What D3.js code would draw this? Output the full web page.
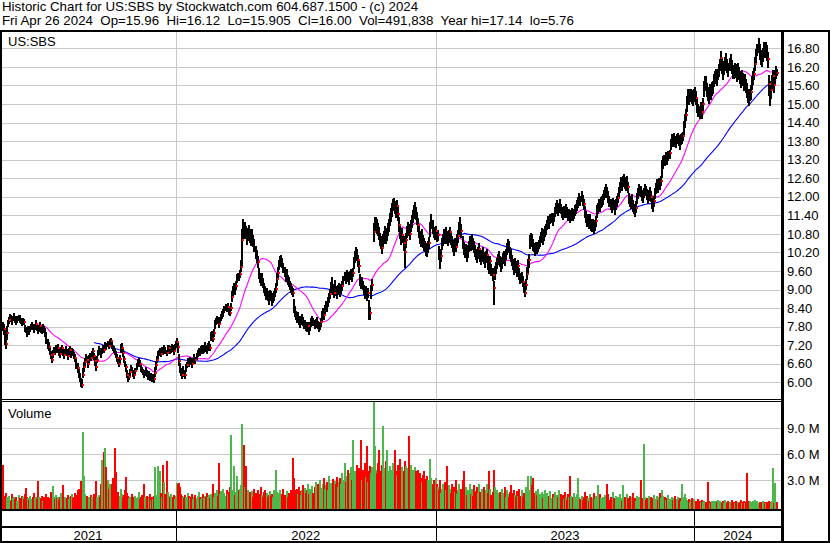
<!DOCTYPE html>
<html><head><meta charset="utf-8">
<script src="https://cdn.jsdelivr.net/npm/d3@7"></script>
<style>
body{margin:0;background:#fff}
svg{display:block}
text{font-family:"Liberation Sans",Arial,sans-serif;fill:#000}
</style>
</head><body>
<svg id="c" width="830" height="543"></svg>
<script>
// ---------------- DATA ----------------
const headerLines = [
  "Historic Chart for US:SBS by Stockwatch.com 604.687.1500 - (c) 2024",
  "Fri Apr 26 2024  Op=15.96  Hi=16.12  Lo=15.905  Cl=16.00  Vol=491,838  Year hi=17.14  lo=5.76"
];
const symbolLabel = "US:SBS";
const volumeLabel = "Volume";
const years = ["2021","2022","2023","2024"];
const yearStart = [0,168,419,669];           // trading-day index of first bar in each year
const priceTicks = [6.00,6.60,7.20,7.80,8.40,9.00,9.60,10.20,10.80,11.40,12.00,12.60,13.20,13.80,14.40,15.00,15.60,16.20,16.80];
const volTicks = [3,6,9];                     // millions
const maFast = 30, maSlow = 90;

// daily close, cents
const cl = [
782,771,748,724,760,
790,800,812,805,798,808,815,803,795,802,810,806,798,792,800,795,
775,768,760,770,765,772,780,
785,778,770,782,790,776,768,775,783,772,765,778,770,760,
740,722,715,
700,688,672,690,705,698,710,
705,712,698,690,702,710,695,688,700,708,695,685,698,706,692,700,695,688,680,
662,645,630,615,598,592,
625,648,665,680,672,660,675,685,678,
690,700,685,668,650,672,695,705,698,690,
700,712,705,720,715,725,718,730,735,720,712,705,698,690,
680,668,660,675,705,712,695,675,660,648,
625,612,618,632,645,640,630,622,635,
650,662,670,658,645,
640,632,625,630,638,628,620,625,615,622,612,618,610,
630,655,672,688,695,700,692,
705,698,710,702,695,708,712,700,706,715,708,700,712,720,
730,715,
668,645,632,625,640,630,622,645,
655,668,660,672,665,658,670,678,672,
685,692,700,695,705,712,700,708,718,710,702,715,722,712,
745,752,740,758,
785,795,805,798,790,802,808,
818,825,835,842,838,845,830,825,840,
875,892,905,898,912,
935,942,938,950,972,
1060,1105,1090,
1095,1080,1065,1075,1088,1070,1060,1072,1055,1040,
1020,1005,990,
950,938,925,935,920,
905,895,880,892,878,
870,885,878,865,872,880,890,902,
935,952,
978,990,998,985,970,
955,940,948,932,925,
912,905,898,890,
845,828,815,
805,812,798,790,800,808,795,785,790,780,775,782,768,
780,792,800,795,785,790,798,785,775,782,795,
812,825,818,835,848,842,858,
872,885,905,918,900,890,910,895,
885,898,905,892,900,912,
930,942,935,948,940,932,945,952,940,955,
985,1005,1020,1010,995,975,
930,918,925,912,
900,885,895,878,890,
840,825,
895,915,
1085,1110,1125,1105,1095,
1080,1062,1048,1035,1055,1070,1085,1065,1078,1092,
1105,1125,1140,1160,1175,1185,1165,1150,1170,1145,
1110,1085,1065,1075,1050,1020,
1060,1085,1100,1092,1080,1105,
1120,1135,1150,1165,1148,1130,1110,
1085,1070,1060,1075,1055,1045,
1040,1030,1022,1038,1050,
1095,1115,1100,
1085,1078,1090,1070,1075,
1020,995,1010,
1045,1060,1075,1068,1080,1070,1058,1072,1085,1065,
1055,1040,1030,1048,1038,1060,1072,
1095,1110,1090,
1050,1035,1020,1030,1010,1025,
1040,1052,1045,1060,1048,1038,
1025,1012,1005,1018,1030,1010,998,1008,1020,1002,
990,1005,1012,985,975,992,
965,948,905,955,970,
985,995,1005,990,978,985,1000,1008,995,1012,
1030,1045,1035,1020,1010,
995,980,968,985,972,960,975,
950,935,940,925,
905,890,915,
950,975,995,
1050,1065,1058,1045,
1035,1025,1040,1030,1038,1045,
1055,1070,1080,1065,1075,1088,1095,
1110,1120,1115,1128,1132,1122,1135,
1150,1162,1170,1158,1165,1175,1160,
1150,1140,1155,1145,1160,1148,1138,
1145,1132,1140,1150,1138,1145,1155,1160,
1170,1182,1195,1185,1200,1188,1175,
1150,1135,1120,1128,1115,1125,1110,
1105,1112,1098,1108,1120,
1150,1162,1175,1168,1180,1185,1190,
1205,1215,1225,1212,1200,
1185,1175,1168,1180,1172,1160,1175,1185,1195,
1215,1230,1245,1238,1250,1260,1245,1235,1248,1230,
1195,1185,1178,1190,1172,
1160,1148,1165,
1195,1210,1222,1215,1205,1198,1212,1225,1218,1208,1195,1205,1215,1200,
1180,1168,1185,
1212,1225,1238,1230,1245,1240,1252,
1295,1310,1320,
1315,1328,1322,1335,1340,
1370,1385,1378,1392,1380,1375,1388,1395,1382,1372,1385,1390,1398,
1425,1445,1465,
1505,1525,1518,1530,1540,1522,1515,1528,1535,1520,
1495,1480,1470,1485,1475,1500,
1550,1570,1565,
1545,1530,1525,1540,1535,1548,1555,
1575,1588,1595,1582,1598,
1610,1625,1648,1620,1605,
1615,1630,1645,1622,1610,1628,1640,1618,1605,
1600,1612,1605,1595,1610,1598,
1585,1572,1590,1578,1565,1575,1560,
1545,1528,1515,1530,1540,
1568,1585,1598,
1630,1655,1675,1690,1665,1650,
1640,1660,1682,1670,1688,1665,1645,
1565,1530,1545,
1570,1590,1560,1585,1602,
1600
];
// daily high minus close, cents
const hiOff = [
13,17,22,28,21,
12,10,9,14,11,8,10,12,9,13,8,11,10,12,9,11,
10,12,9,11,8,10,9,
9,12,10,8,11,13,10,9,12,10,11,9,12,14,
22,18,14,
14,12,15,13,10,12,9,
10,12,11,9,13,10,12,11,9,10,13,11,12,10,9,11,12,10,13,
15,18,14,16,17,20,
22,18,15,12,14,11,13,10,12,
12,10,11,14,16,13,10,11,12,10,
11,10,13,9,12,10,11,9,8,12,10,11,9,12,
12,11,10,13,18,15,12,11,10,12,
14,12,11,10,12,9,11,12,10,
11,12,10,13,11,
10,12,9,11,10,12,11,10,12,9,11,10,12,
18,15,14,12,11,10,12,
10,11,9,12,10,11,9,10,12,9,11,10,12,13,
14,12,
25,16,14,12,13,11,12,14,
12,11,13,10,12,11,10,12,11,
11,12,10,13,11,10,12,11,13,10,12,11,10,12,
18,14,16,15,
16,12,11,13,12,10,12,
14,12,13,11,14,12,13,12,15,
20,18,16,15,17,
15,13,16,14,24,
35,22,25,
22,25,20,24,22,26,21,23,20,22,
22,24,20,
18,16,20,17,18,
17,15,18,14,16,
16,14,17,15,16,14,15,18,
18,20,
16,18,14,16,17,
18,15,17,16,15,
15,16,14,15,
25,18,16,
15,14,16,13,15,14,16,15,13,14,15,14,12,
14,15,13,14,16,15,13,14,15,14,13,
18,16,17,15,16,18,17,
17,18,20,22,18,17,20,18,
16,17,15,16,18,14,
15,16,14,15,17,16,14,15,16,14,
20,18,17,22,18,16,
20,18,16,17,
16,18,15,17,16,
25,20,
20,18,
30,25,10,22,20,
22,20,24,21,23,20,22,24,21,23,
22,24,25,20,18,10,22,24,20,22,
24,22,20,25,22,20,
22,20,18,21,23,20,
20,22,24,18,20,22,21,
22,20,24,21,22,20,
18,20,22,19,20,
22,30,24,
18,20,17,19,18,
20,25,22,
20,18,22,19,21,18,20,22,17,19,
19,21,18,20,22,19,20,
24,25,22,
22,20,21,18,22,19,
18,20,19,21,18,20,
18,20,17,19,21,18,20,19,17,20,
20,18,19,22,20,18,
18,20,22,20,18,
17,19,18,20,17,19,18,17,20,18,
20,18,22,19,20,
18,20,19,17,20,18,19,
18,20,17,19,
18,17,20,
22,25,20,
25,18,20,19,
16,18,15,17,16,15,
18,17,19,18,20,19,18,
16,18,17,15,16,18,14,
18,17,19,18,16,17,18,
17,18,16,19,17,18,16,
16,18,17,15,18,16,17,18,
18,17,16,19,20,18,17,
20,18,19,17,20,18,19,
18,17,19,18,17,
22,18,17,19,18,17,18,
18,17,15,19,18,
17,18,16,17,19,18,17,16,18,
18,17,19,18,17,13,18,17,19,18,
18,19,17,18,19,
18,19,20,
18,17,18,19,17,18,17,15,18,17,19,18,17,18,
18,20,19,
17,18,19,17,15,18,16,
25,22,15,
18,17,20,12,10,
18,17,19,13,18,17,16,10,18,19,17,16,10,
20,22,18,
20,25,22,18,10,22,24,20,21,23,
22,20,24,21,23,20,
25,22,24,
22,24,20,23,21,22,18,
22,20,18,21,15,
20,22,22,25,24,
24,22,20,25,23,21,20,24,22,
22,20,23,21,22,20,
21,23,20,22,24,21,22,
24,22,25,20,22,
24,22,18,
22,24,20,23,30,25,
24,22,18,28,12,25,24,
30,25,28,
25,20,22,24,20,
12
];
// daily close minus low, cents
const loOff = [
17,19,26,16,22,
10,12,9,11,13,10,8,12,10,9,11,13,10,9,12,10,
11,9,12,10,13,9,11,
12,10,11,13,9,10,12,11,9,12,10,13,11,12,
16,14,13,
12,14,10,11,12,9,13,
11,9,12,10,11,13,9,12,10,11,9,12,10,11,13,10,9,12,14,
18,15,17,14,12,10,
12,14,16,13,11,15,12,14,10,
10,12,13,15,12,11,10,13,11,12,
10,12,9,11,10,12,9,11,10,13,12,10,11,10,
13,10,12,11,10,12,13,11,12,14,
12,12,10,13,11,10,12,11,10,
10,12,11,10,12,
11,10,12,9,11,10,12,11,10,12,10,11,12,
12,14,11,13,10,12,11,
11,9,12,10,11,9,12,10,11,12,10,11,9,10,
10,20,
16,14,12,15,13,12,12,11,
10,12,11,13,10,12,11,10,12,
12,10,11,10,12,11,10,12,11,12,10,13,11,10,
12,10,11,13,
14,11,12,10,13,11,10,
12,14,11,13,12,11,13,12,10,
15,16,14,17,15,
14,15,12,13,16,
85,30,28,
20,18,22,19,21,18,20,22,19,18,
20,18,22,
16,18,15,17,16,
15,16,14,17,15,
20,15,16,18,14,16,15,14,
22,16,
15,16,17,14,16,
16,17,15,16,18,
14,15,16,14,
20,16,15,
14,15,13,16,14,15,13,14,15,14,13,15,15,
13,14,15,13,14,15,14,13,12,14,15,
16,15,17,16,14,15,16,
16,17,18,16,19,17,18,16,
15,16,17,15,14,16,
14,15,16,14,15,17,15,14,16,15,
18,20,17,19,22,20,
18,16,17,15,
17,15,16,14,18,
40,25,
25,20,
30,22,20,24,22,
20,22,18,21,19,22,20,18,21,19,
20,21,22,24,20,22,21,20,22,24,
25,22,20,24,26,50,
25,20,22,19,21,20,
22,20,21,24,22,20,23,
20,22,21,19,22,20,
19,20,18,21,19,
24,20,22,
17,18,20,16,18,
25,30,22,
18,20,17,21,19,22,18,20,19,21,
20,18,21,19,18,20,22,
22,20,25,
20,22,19,21,20,22,
19,18,20,17,19,21,
19,17,20,18,17,20,19,18,20,19,
21,20,19,22,24,20,
20,22,55,24,20,
18,17,19,18,20,18,17,19,18,17,
19,20,18,21,20,
19,18,20,19,18,20,18,
19,17,20,18,
17,15,18,
20,22,24,
20,22,19,21,
15,16,17,15,16,15,
17,19,18,20,17,18,19,
17,15,18,16,17,15,16,
16,18,17,19,18,16,17,
18,16,17,15,18,17,16,
17,16,18,17,15,18,16,17,
17,18,19,16,18,17,19,
18,20,17,19,18,20,22,
20,18,17,19,18,
20,18,19,17,18,19,17,
17,19,18,17,20,
18,17,19,17,16,18,19,17,16,
17,18,17,19,18,17,19,18,17,19,
20,18,19,17,20,
15,13,18,
17,18,19,17,18,19,17,18,16,17,19,18,17,16,
20,18,17,
18,17,16,19,18,17,18,
35,20,22,
17,19,18,20,18,
18,19,17,18,20,17,19,18,17,20,18,19,18,
25,22,20,
30,22,20,24,21,22,20,23,22,24,
24,22,20,25,22,24,
26,24,22,
24,22,25,21,23,22,24,
20,22,21,24,22,
22,20,25,24,26,
22,24,25,21,23,22,24,20,23,
20,22,21,23,20,22,
22,21,24,20,22,23,24,
25,24,20,22,26,
22,24,20,
22,24,20,25,22,24,
22,24,25,22,24,26,30,
40,35,30,
24,22,26,20,22,
10
];
// daily volume, units of 100,000 shares
const vol = [
48,12,8,15,10,9,12,7,6,14,9,11,8,10,6,13,9,7,12,10,
8,14,21,10,9,7,12,8,6,10,15,9,11,8,29,10,7,9,12,6,
10,8,14,11,7,9,16,12,23,10,8,13,9,11,7,10,15,8,24,9,
11,7,9,13,8,10,12,14,9,11,15,13,18,20,16,29,22,86,35,14,
10,12,8,11,9,13,10,7,14,12,29,11,9,13,10,25,53,48,62,67,
45,30,20,26,12,25,32,22,67,39,11,16,9,12,20,14,10,13,18,34,
15,12,9,11,8,14,10,7,12,9,11,16,8,10,13,9,26,11,8,12,
10,9,14,7,11,8,12,45,13,10,46,12,40,15,11,48,28,14,52,16,
12,10,14,9,11,13,8,12,27,25,27,22,14,12,10,9,13,11,8,15,
12,9,11,14,8,10,13,9,12,16,10,8,11,14,9,12,10,15,11,13,
9,14,12,26,11,15,13,18,12,50,14,17,13,20,15,12,18,14,16,22,
82,15,19,46,13,16,35,12,18,20,24,95,28,71,22,46,14,18,12,16,
13,17,11,20,15,12,18,10,14,22,13,11,16,19,12,15,10,13,17,12,
14,11,19,13,42,16,12,15,18,11,14,20,13,12,17,10,15,13,18,14,
56,32,18,15,20,14,22,17,13,19,24,16,21,15,18,26,14,20,17,23,
15,22,28,19,25,17,30,21,18,26,33,20,24,28,19,35,22,27,25,31,
24,29,26,34,22,28,32,25,38,30,50,28,35,42,26,38,45,30,77,34,
40,36,48,32,44,38,77,30,42,36,50,34,70,28,40,46,38,45,120,70,
42,38,50,65,40,36,48,93,44,38,52,65,40,35,46,42,38,50,44,65,
40,36,48,42,55,38,45,40,52,46,38,44,81,40,48,36,42,38,45,40,
35,42,30,38,33,28,36,40,31,27,35,30,29,55,32,26,30,28,33,25,
22,18,30,15,20,25,17,28,19,46,14,24,20,15,26,18,22,16,30,14,
18,25,14,20,30,40,16,22,13,18,15,26,14,20,12,24,17,13,22,15,
25,16,12,20,14,22,13,18,26,15,40,20,13,16,42,22,12,18,15,11,
16,12,20,10,15,22,11,18,14,10,16,24,12,15,19,13,10,17,12,20,
12,18,10,15,13,22,16,35,18,12,35,24,32,15,11,17,13,20,10,14,
11,16,9,14,18,10,15,8,12,17,9,14,11,16,8,13,10,18,11,14,
9,13,8,16,11,7,14,10,35,12,8,11,15,7,10,14,32,11,8,12,
7,11,16,8,12,9,6,14,10,7,9,15,8,12,6,24,8,14,9,7,
10,8,13,6,25,14,7,11,8,16,9,6,12,8,10,7,14,9,6,24,
8,11,7,14,9,6,12,8,10,15,7,9,6,12,8,10,30,7,9,72,
10,7,9,6,12,8,10,7,9,13,6,8,12,7,10,15,9,18,12,8,
10,7,9,13,8,6,11,7,9,12,6,8,10,7,9,6,25,8,10,14,
9,7,6,8,5,7,9,6,8,5,6,5,8,6,5,7,5,6,4,5,
5,28,6,4,5,6,5,6,4,6,5,7,4,6,5,4,6,4,7,5,
4,6,5,5,7,4,5,4,6,4,5,4,5,7,4,5,6,4,5,38,
6,4,6,5,4,6,4,7,5,6,4,5,4,5,6,4,5,4,5,4,
6,5,4,6,44,4,27,5,5
];

// ---------------- DRAWING ----------------
const svg = d3.select("#c");
const W = 830, H = 543;
const plotL = 2, plotR = 781;
const priceTop = 32, priceBot = 399;
const volTop = 402, volBot = 509;
const N = cl.length;

const x = d3.scaleLinear().domain([0, 752.7]).range([plotL, plotR]);
const yP = d3.scaleLinear().domain([6, 16.8]).range([382.3, 48.3]);
const yV = d3.scaleLinear().domain([0, 9]).range([506, 428.3]);

svg.append("rect").attr("width", W).attr("height", H).attr("fill", "#fff");

// header
svg.selectAll("text.hdr").data(headerLines).join("text")
  .attr("class","hdr").attr("x", 2).attr("y", (d,i) => 11 + i*14)
  .style("font-size","13.3px").style("white-space","pre").text(d => d);

const defs = svg.append("defs");
defs.append("clipPath").attr("id","cp").append("rect")
  .attr("x", plotL).attr("y", priceTop).attr("width", plotR-plotL).attr("height", priceBot-priceTop);
defs.append("clipPath").attr("id","cv").append("rect")
  .attr("x", plotL).attr("y", volTop).attr("width", plotR-plotL).attr("height", volBot-volTop);

const grid = "#c8c8c8";
svg.append("g").selectAll("line").data(priceTicks).join("line")
  .attr("x1", plotL).attr("x2", plotR)
  .attr("y1", d => Math.round(yP(d))+0.5).attr("y2", d => Math.round(yP(d))+0.5)
  .attr("stroke", grid).attr("stroke-width",1);
svg.append("g").selectAll("line").data(volTicks).join("line")
  .attr("x1", plotL).attr("x2", plotR)
  .attr("y1", d => Math.round(yV(d))+0.5).attr("y2", d => Math.round(yV(d))+0.5)
  .attr("stroke", grid).attr("stroke-width",1);
const yb = yearStart.slice(1);
svg.append("g").selectAll("line").data(yb).join("line")
  .attr("x1", d => Math.round(x(d))+0.5).attr("x2", d => Math.round(x(d))+0.5)
  .attr("y1", priceTop).attr("y2", volBot)
  .attr("stroke", grid).attr("stroke-width",1);

// volume bars
const gv = svg.append("g").attr("clip-path","url(#cv)").attr("shape-rendering","crispEdges");
for (let i = 0; i < N; i++) {
  const up = i > 0 && cl[i] >= cl[i-1];
  const top = yV(vol[i] / 10);
  gv.append("rect").attr("x", Math.round(x(i))).attr("width", 2)
    .attr("y", top).attr("height", Math.max(1, volBot - top))
    .attr("fill", up ? "#4cb84c" : "#ff0000");
}

// moving averages
function sma(n) {
  const out = [];
  let s = 0;
  for (let i = 0; i < N; i++) {
    s += cl[i];
    if (i >= n) s -= cl[i-n];
    if (i >= n-1) out.push([i, s / n / 100]);
  }
  return out;
}
const line = d3.line().x(d => x(d[0])).y(d => yP(d[1]));
const gp = svg.append("g").attr("clip-path","url(#cp)");
gp.append("path").attr("d", line(sma(maSlow))).attr("fill","none").attr("stroke","#0000ff").attr("stroke-width",1.1);
gp.append("path").attr("d", line(sma(maFast))).attr("fill","none").attr("stroke","#ff00ff").attr("stroke-width",1.1);

// price bars: black high-low line; red close tick shows where it is not overdrawn by the next bar
const hiV = cl.map((c,i) => (c + (hiOff[i] ?? 15)) / 100);
const loV = cl.map((c,i) => (c - (loOff[i] ?? 15)) / 100);
const gb = gp.append("g").attr("shape-rendering","crispEdges");
for (let i = 0; i < N; i++) {
  const px = Math.round(x(i));
  const yt = Math.round(yP(hiV[i])), ybm = Math.round(yP(loV[i]));
  gb.append("rect").attr("x", px).attr("y", yt).attr("width", 2).attr("height", Math.max(1, ybm - yt)).attr("fill", "#000");
}
for (let i = 0; i < N; i++) {
  const c = cl[i] / 100;
  const hidden = i < N-1 && c <= hiV[i+1] && c >= loV[i+1];
  if (hidden) continue;
  const px = Math.round(x(i));
  gb.append("rect").attr("x", px+1).attr("y", Math.round(yP(c))-1).attr("width", 2).attr("height", 2).attr("fill", "#ff0000");
}

// labels inside panels
svg.append("text").attr("x", 8).attr("y", 46).style("font-size","13px").text(symbolLabel);
svg.append("text").attr("x", 8).attr("y", 418).style("font-size","13px").text(volumeLabel);

// right axes
const axP = d3.axisRight(yP).tickValues(priceTicks).tickFormat(d3.format(".2f")).tickSize(0).tickPadding(5);
const gax = svg.append("g").attr("transform","translate(782,0)").call(axP);
gax.select(".domain").remove();
gax.selectAll("text").style("font-size","13px").style("font-family",'"Liberation Sans",Arial,sans-serif').attr("fill","#000");
const axV = d3.axisRight(yV).tickValues(volTicks).tickFormat(d => d.toFixed(1) + " M").tickSize(0).tickPadding(5);
const gav = svg.append("g").attr("transform","translate(782,0)").call(axV);
gav.select(".domain").remove();
gav.selectAll("text").style("font-size","13px").style("font-family",'"Liberation Sans",Arial,sans-serif').attr("fill","#000");

// year labels
const bounds = yearStart.map(d => x(d)).concat([plotR]);
bounds[0] = 0;
svg.selectAll("text.yr").data(years).join("text").attr("class","yr")
  .attr("x", (d,i) => (bounds[i] + bounds[i+1]) / 2).attr("y", 540)
  .attr("text-anchor","middle").style("font-size","13px").text(d => d);

// frame
const fr = svg.append("g").attr("shape-rendering","crispEdges").attr("fill","#000");
fr.append("rect").attr("x",0).attr("y",30).attr("width",W).attr("height",2);
fr.append("rect").attr("x",0).attr("y",30).attr("width",2).attr("height",H-30);
fr.append("rect").attr("x",781).attr("y",30).attr("width",2.5).attr("height",H-30);
fr.append("rect").attr("x",828).attr("y",30).attr("width",2).attr("height",H-30);
fr.append("rect").attr("x",0).attr("y",399).attr("width",783).attr("height",1);
fr.append("rect").attr("x",0).attr("y",401).attr("width",783).attr("height",1);
fr.append("rect").attr("x",0).attr("y",509).attr("width",783).attr("height",2);
fr.append("rect").attr("x",0).attr("y",526).attr("width",783).attr("height",2);
fr.append("rect").attr("x",0).attr("y",541).attr("width",W).attr("height",2);
fr.selectAll("rect.ys").data(yb).join("rect").attr("class","ys")
  .attr("x", d => Math.round(x(d))).attr("y", 511).attr("width",1).attr("height",30);
</script>
</body></html>
